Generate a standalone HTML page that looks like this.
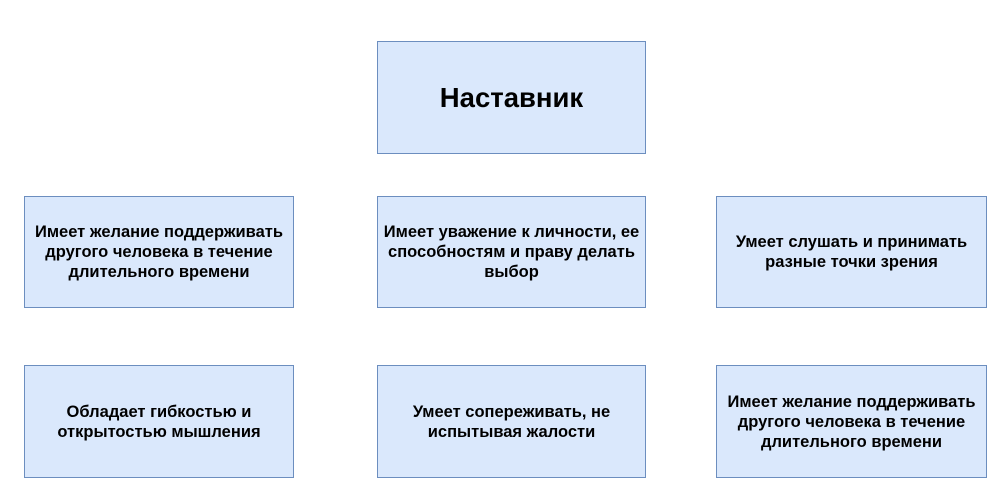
<!DOCTYPE html>
<html><head><meta charset="utf-8"><style>
body{margin:0;width:1006px;height:502px;background:#fff;position:relative;overflow:hidden;font-family:"Liberation Sans",Arial,sans-serif}
.b{position:absolute;box-sizing:border-box;background:#dae8fc;border:1.5px solid #6c8ebf;display:flex;align-items:center;justify-content:center;text-align:center;font-weight:bold;font-size:16.5px;line-height:20px;color:#000;padding:0 2px;white-space:nowrap}
</style></head><body>
<div class="b" style="left:377px;top:41px;width:269px;height:113px;font-size:27.5px">Наставник</div>
<div class="b" style="left:24px;top:196px;width:270px;height:112px">Имеет желание поддерживать<br>другого человека в течение<br>длительного времени</div>
<div class="b" style="left:377px;top:196px;width:269px;height:112px">Имеет уважение к личности, ее<br>способностям и праву делать<br>выбор</div>
<div class="b" style="left:716px;top:196px;width:271px;height:112px">Умеет слушать и принимать<br>разные точки зрения</div>
<div class="b" style="left:24px;top:365px;width:270px;height:113px">Обладает гибкостью и<br>открытостью мышления</div>
<div class="b" style="left:377px;top:365px;width:269px;height:113px">Умеет сопереживать, не<br>испытывая жалости</div>
<div class="b" style="left:716px;top:365px;width:271px;height:113px">Имеет желание поддерживать<br>другого человека в течение<br>длительного времени</div>
</body></html>
